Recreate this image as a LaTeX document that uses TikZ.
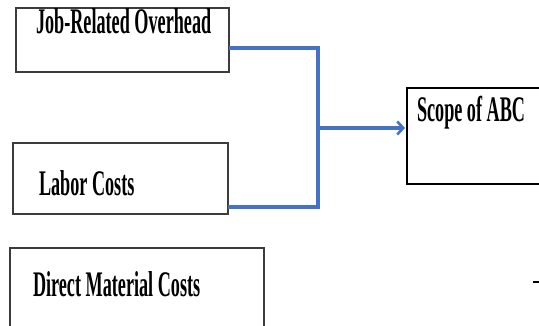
\documentclass[tikz,border=0pt]{standalone}
\usepackage{fontspec}
\setmainfont{Liberation Serif}
\usetikzlibrary{arrows.meta}
\definecolor{connblue}{RGB}{68,114,196}
\definecolor{boxgray}{RGB}{60,60,60}
\newcommand{\sqtext}[1]{\scalebox{0.505}[1]{\fontsize{36}{40}\selectfont\bfseries #1}}
\begin{document}
\begin{tikzpicture}[x=1pt,y=-1pt,
  box/.style={draw=boxgray,line width=1.4pt,fill=white,inner sep=0pt,outer sep=0pt},
  scopebox/.style={draw=black,line width=2.2pt,fill=white,inner sep=0pt,outer sep=0pt},
  lbl/.style={anchor=base west,inner sep=0pt,outer sep=0pt},
  conn/.style={draw=connblue,line width=3.6pt,line join=miter}]
\useasboundingbox (0,0) rectangle (539,326);
\clip (0,0) rectangle (539,326);
\fill[white] (0,0) rectangle (539,326);
% boxes
\node[box,minimum width=213pt,minimum height=64pt] (job) at (122.5,40) {};
\node[box,minimum width=215pt,minimum height=71pt] (labor) at (120.5,178.5) {};
\node[box,minimum width=254pt,minimum height=92pt] (direct) at (137,294) {};
\node[scopebox,minimum width=153pt,minimum height=96pt] (scope) at (483.5,136) {};
% labels
\node[lbl] (jobtxt) at (36,34) {\sqtext{Job-Related Overhead}};
\node[lbl] (labortxt) at (39,196) {\sqtext{Labor Costs}};
\node[lbl] (directtxt) at (33,297) {\sqtext{Direct Material Costs}};
\node[lbl] (scopetxt) at (417,122) {\sqtext{Scope of ABC}};
% connectors
\coordinate (junction) at (318,128);
\draw[conn] ([yshift=-8pt]job.east) -| (junction) |- ([yshift=-28.5pt]labor.east);
\draw[conn,-{Straight Barb[length=6pt,width=13pt,line width=2.6pt]},shorten >=2pt] (junction) -- (scope.west |- junction);
% small dash at right edge
\coordinate (dashL) at (533,282);
\draw[line width=2.2pt] (dashL) -- ++(8,0);
\end{tikzpicture}
\end{document}
